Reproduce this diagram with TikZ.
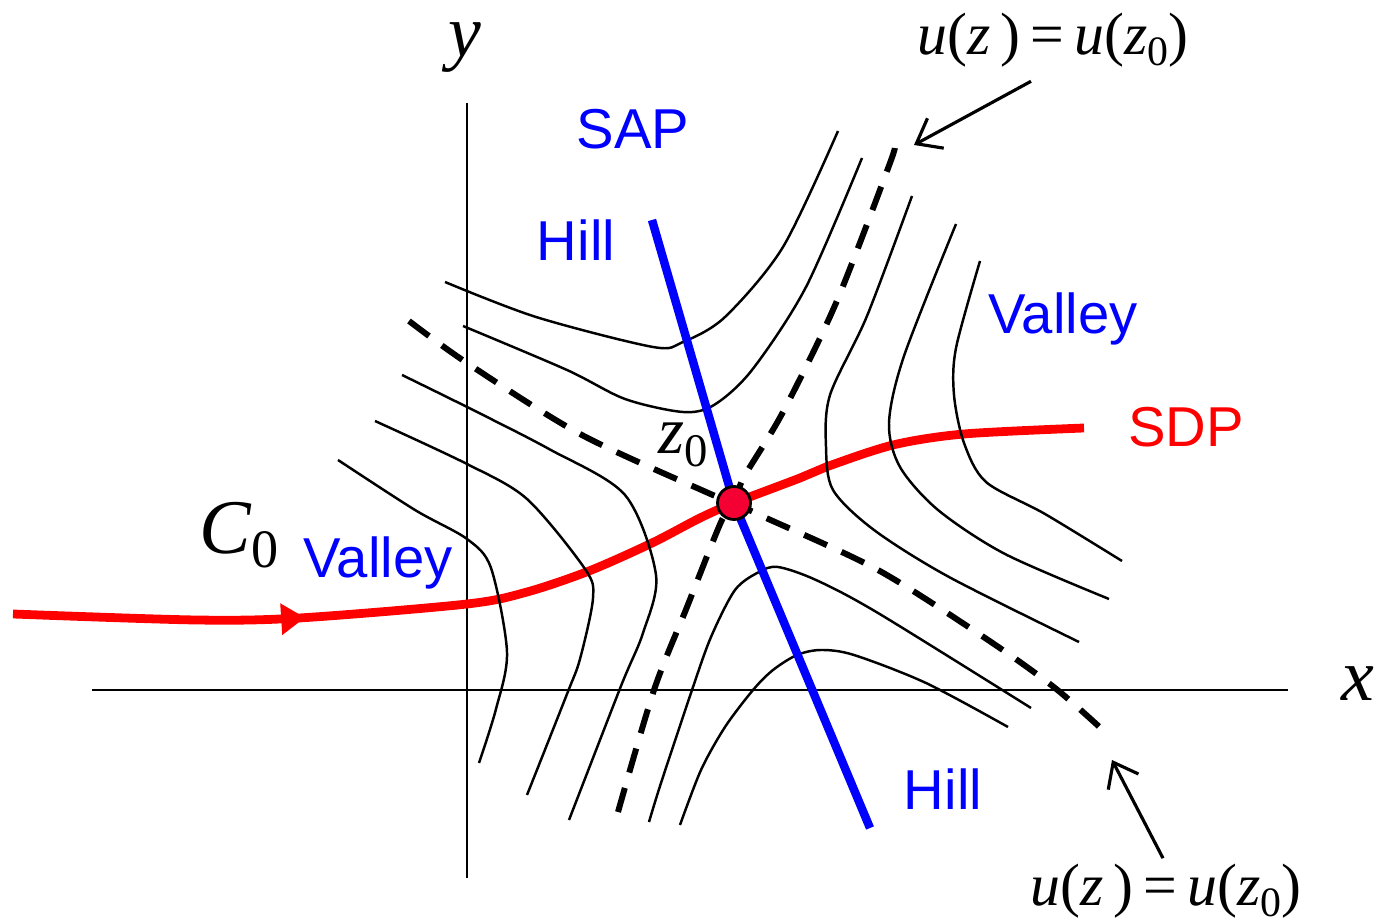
\documentclass[tikz,border=0pt]{standalone}
\usepackage{fontspec,amsmath}
\setmainfont{Liberation Serif}
\newfontfamily\arialfont{Liberation Sans}
\usetikzlibrary{arrows.meta,calc,positioning,decorations.markings}
\definecolor{saddlered}{RGB}{245,0,50}
\newcommand{\vi}[1]{\textit{#1}}
\newcommand{\lo}[1]{\raisebox{-0.4ex}{\fontsize{0.7em}{0.7em}\selectfont#1}}

\begin{document}
\begin{tikzpicture}[x=1cm,y=1cm,>={Straight Barb[length=2.2mm,width=3.4mm]},font=\arialfont\fontsize{16}{19}\selectfont,
  contour/.style={line width=0.7pt,smooth},
  level/.style={line width=1.7pt,dash pattern=on 2.5mm off 1.6mm,smooth},
  sap/.style={blue,line width=2.4pt},
  sdp/.style={red,line width=2.5pt,smooth},
  pointer/.style={->,line width=0.9pt},
  mathlbl/.style={font=\rmfamily\fontsize{#1}{#1}\selectfont,inner sep=1pt}]
\useasboundingbox (0,0) rectangle (13.83,9.24);
% axes
\draw[line width=0.7pt] (0.92,2.34)--(12.88,2.34);
\draw[line width=0.7pt] (4.67,0.46)--(4.67,8.21);
\node[mathlbl=21] (xlab) at (13.58,2.40) {\vi{x}};
\node[mathlbl=21,inner sep=0pt] (ylab) at (4.65,8.76) {\vi{y}};
% path of integration
\draw[sdp,postaction={decorate},decoration={markings,mark=at position 0.265 with {\arrow{Triangle[length=2.4mm,width=3mm]}}}]
  plot coordinates {(0.13,3.10) (1.96,3.04) (2.99,3.06) (4.67,3.20) (5.27,3.32) (5.89,3.53) (6.52,3.81) (7.00,4.06) (7.34,4.21) (8.00,4.46) (8.26,4.57) (8.93,4.79) (9.64,4.90) (10.84,4.96)};
% level curves
\draw[contour] plot coordinates {(3.38,4.64) (4.15,4.14) (4.67,3.85) (4.91,3.56) (5.07,2.72) (4.96,2.15) (4.79,1.61)};
\draw[contour] plot coordinates {(3.75,5.03) (4.67,4.60) (5.27,4.25) (5.85,3.55) (5.93,3.26) (5.80,2.65) (5.67,2.30) (5.27,1.29)};
\draw[contour] plot coordinates {(4.02,5.49) (4.67,5.17) (5.49,4.75) (6.25,4.29) (6.56,3.49) (6.43,2.91) (6.21,2.38) (5.69,1.04)};
\draw[contour] plot coordinates {(4.45,6.42) (5.36,6.07) (6.53,5.77) (6.83,5.82) (7.25,6.07) (7.83,6.77) (8.38,7.93)};
\draw[contour] plot coordinates {(4.63,5.98) (5.67,5.54) (6.25,5.25) (6.83,5.12) (7.14,5.19) (7.52,5.54) (8.06,6.37) (8.62,7.66)};
\draw[contour] plot coordinates {(9.12,7.28) (8.67,6.08) (8.30,5.29) (8.26,4.77) (8.33,4.34) (8.74,3.94) (9.49,3.47) (10.79,2.82)};
\draw[contour] plot coordinates {(9.56,7.00) (9.04,5.68) (8.89,5.01) (9.00,4.57) (9.38,4.14) (10.05,3.70) (11.09,3.25)};
\draw[contour] plot coordinates {(9.80,6.63) (9.56,5.76) (9.54,5.29) (9.64,4.81) (9.86,4.42) (10.45,4.10) (11.22,3.63)};
\draw[contour] plot coordinates {(6.49,1.02) (6.61,1.41) (6.92,2.34) (7.11,2.87) (7.35,3.34) (7.59,3.52) (7.78,3.57) (8.16,3.44) (8.78,3.11) (10.31,2.16)};
\draw[contour] plot coordinates {(6.80,0.99) (7.01,1.54) (7.25,1.97) (7.53,2.34) (7.73,2.54) (7.97,2.69) (8.21,2.74) (8.54,2.69) (9.26,2.41) (10.08,1.97)};
% u(z)=u(z_0) through the saddle
\draw[level] plot coordinates {(4.09,6.03) (4.67,5.61) (5.80,4.90) (7.06,4.32) (7.34,4.21) (7.64,4.07) (8.78,3.54) (9.88,2.84) (10.55,2.36) (11.06,1.91)};
\draw[level] plot coordinates {(6.18,1.12) (6.54,2.34) (6.87,3.17) (7.21,4.02) (7.34,4.21) (7.44,4.47) (7.83,5.12) (8.36,6.21) (8.90,7.61) (8.94,7.77)};
% steepest ascent path
\draw[sap] (6.52,7.04)--(7.34,4.21)--(8.70,0.96);
\node[circle,draw,fill=saddlered,minimum size=3.3mm,inner sep=0pt,line width=0.8pt] (saddle) at (7.34,4.21) {};
% labels
\node[mathlbl=19] (zlab) at (6.83,4.79) {\vi{z}\lo{0}};
\node[mathlbl=22] (clab) at (2.39,3.89) {\vi{C}\lo{0}};
\node[blue] (saplab) at (6.33,7.95) {SAP};
\node[blue] (hilltop) at (5.76,6.84) {Hill};
\node[blue] (hillbot) at (9.43,1.35) {Hill};
\node[blue] (valleyr) at (10.63,6.05) {Valley};
\node[blue] (valleyl) at (3.78,3.61) {Valley};
\node[red] (sdplab) at (11.86,4.97) {SDP};
\node[mathlbl=17] (utop) at (10.53,8.84) {\vi{u}(\vi{z}\,)\,=\,\vi{u}(\vi{z}\lo{0})};
\node[mathlbl=17,inner sep=0pt] (ubot) at (11.66,0.33) {\vi{u}(\vi{z}\,)\,=\,\vi{u}(\vi{z}\lo{0})};
\coordinate (utip) at (9.14,7.79);
\coordinate (btip) at (11.12,1.64);
\draw[pointer] ([xshift=-2.2mm,yshift=-1mm]utop.south)--(utip);
\draw[pointer] ([xshift=-0.3mm,yshift=0.5mm]ubot.north)--(btip);
\end{tikzpicture}
\end{document}
